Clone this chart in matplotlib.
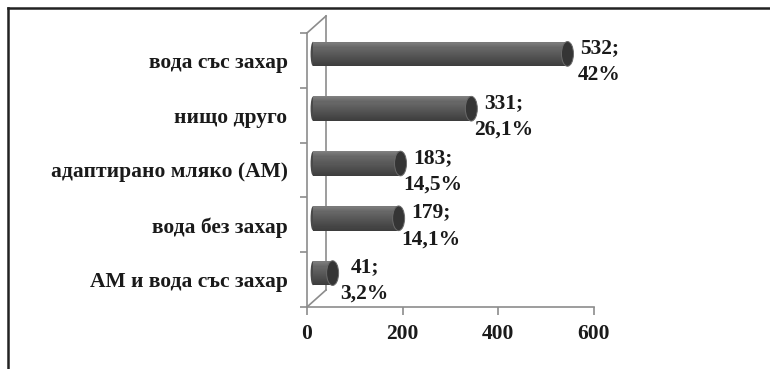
import matplotlib
matplotlib.use("Agg")
import matplotlib.pyplot as plt
import matplotlib.transforms as mtransforms
from matplotlib.patches import Ellipse
from matplotlib.lines import Line2D
import numpy as np

# ---- data ----
categories = ["вода със захар", "нищо друго", "адаптирано мляко (АМ)",
              "вода без захар", "АМ и вода със захар"]
counts = [532, 331, 183, 179, 41]
percents = [42, 26.1, 14.5, 14.1, 3.2]
x_ticks = [0, 200, 400, 600]

plt.rcParams['font.family'] = ['Liberation Serif', 'DejaVu Serif']

W, H = 770, 369
fig = plt.figure(figsize=(W / 100, H / 100), dpi=100)
ax = fig.add_axes([307 / W, (H - 307) / H, 287 / W, 274 / H])

ax.set_xlim(0, 600)
ax.set_ylim(len(categories) - 0.5, -0.5)

px_per_unit = 287 / 600.0
ypos = np.arange(len(categories))
bar_h = 0.45

# offset (depth) transform for the cylinders
trans = mtransforms.offset_copy(ax.transData, fig=fig, x=6, y=6.5, units='dots')

# base bars
ax.barh(ypos, counts, height=bar_h, left=0, color='#444444', transform=trans,
        zorder=3, clip_on=False)

# cylinder shading as thin strips
n = 24
shade = np.concatenate([np.linspace(0.50, 0.40, 6), np.linspace(0.40, 0.24, n - 6)])
for k in range(n):
    off = -bar_h / 2 + (k + 0.5) * bar_h / n
    c = shade[k]
    ax.barh(ypos + off, counts, height=bar_h / n * 1.05, left=0,
            color=(c, c, c), transform=trans, zorder=4, clip_on=False, linewidth=0)
# top highlight
ax.barh(ypos - bar_h / 2 + bar_h * 0.05, counts, height=bar_h * 0.07, left=0,
        color='#7a7a7a', transform=trans, zorder=4, clip_on=False, linewidth=0)

# end caps
cap_w = 12 / px_per_unit
for yi, v in zip(ypos, counts):
    ax.add_patch(Ellipse((v, yi), cap_w, bar_h, facecolor='#353535',
                         edgecolor='#6a6a6a', linewidth=0.7,
                         transform=trans, zorder=5, clip_on=False))
    ax.add_patch(Ellipse((0, yi), cap_w * 0.4, bar_h * 0.98, facecolor='#4a4a4a',
                         edgecolor='none', transform=trans, zorder=2, clip_on=False))

# data labels
for yi, v, p in zip(ypos, counts, percents):
    txt = f"{v};\n{p:g}%".replace('.', ',')
    ax.annotate(txt, xy=(v, yi), xytext=(38, -1), textcoords='offset pixels',
                ha='center', va='center', fontsize=15.5, fontweight='bold',
                color='#1a1a1a', linespacing=1.45, annotation_clip=False)

# axes styling
axis_col = '#8c8c8c'
for s in ['top', 'right']:
    ax.spines[s].set_visible(False)
ax.spines['left'].set_color(axis_col)
ax.spines['bottom'].set_color(axis_col)
ax.spines['left'].set_linewidth(1.2)
ax.spines['bottom'].set_linewidth(1.2)

ax.set_yticks(ypos)
ax.set_yticklabels(categories, fontsize=15.5, fontweight='bold', color='#1a1a1a')
ax.set_yticks(np.arange(-0.5, len(categories)), minor=True)
ax.tick_params(axis='y', which='major', length=0, pad=14)
ax.tick_params(axis='y', which='minor', length=5, color=axis_col, width=1.2)

ax.set_xticks(x_ticks)
ax.set_xticklabels([str(t) for t in x_ticks], fontsize=15.5, fontweight='bold', color='#1a1a1a')
ax.tick_params(axis='x', which='major', length=6, color=axis_col, width=1.2, pad=6)

# 3D wall lines
wall = mtransforms.offset_copy(ax.transAxes, fig=fig, x=19, y=17, units='dots')
ax.plot([0, 0], [0, 1], color=axis_col, lw=1.2, transform=wall, clip_on=False, zorder=1)
for yy in (0, 1):
    p0 = ax.transAxes.transform((0, yy))
    ax.add_line(Line2D([p0[0], p0[0] + 19], [p0[1], p0[1] + 17], color=axis_col,
                       lw=1.2, transform=None, clip_on=False, zorder=1))

# outer frame (left and top edges)
fig.add_artist(Line2D([8 / W, 8 / W], [0, (H - 8) / H], color='#222222', lw=1.8,
                      transform=fig.transFigure))
fig.add_artist(Line2D([8 / W, 1], [(H - 8) / H, (H - 8) / H], color='#222222', lw=1.8,
                      transform=fig.transFigure))

fig.savefig("out.png", dpi=100)
